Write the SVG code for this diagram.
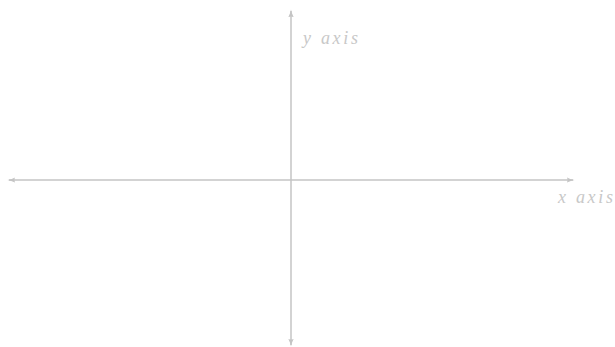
<svg xmlns="http://www.w3.org/2000/svg" width="615" height="347" viewBox="0 0 615 347">
<style>
.ax{stroke:#c4c4c4;stroke-width:1.5;fill:none}
.lbl{font-family:"Liberation Serif","DejaVu Serif",serif;font-style:italic;font-size:18px;fill:#c8c8c8}
</style>
<defs>
<marker id="arr" viewBox="0 0 10 10" refX="8" refY="5" markerWidth="8" markerHeight="8" orient="auto-start-reverse" markerUnits="userSpaceOnUse">
<path d="M0,1.5 Q5,4.2 10,5 Q5,5.8 0,8.5 Q2.5,5 0,1.5 Z" fill="#c4c4c4"/>
</marker>
</defs>
<rect width="615" height="347" fill="#ffffff"/>
<g id="connectors">
<line class="ax" x1="9" y1="180" x2="573" y2="180" marker-start="url(#arr)" marker-end="url(#arr)"/>
<line class="ax" x1="291" y1="11" x2="291" y2="345" marker-start="url(#arr)" marker-end="url(#arr)"/>
</g>
<g id="x-label"><text class="lbl" x="558" y="203" textLength="55" lengthAdjust="spacing">x axis</text></g>
<g id="y-label"><text class="lbl" x="303" y="44" textLength="55" lengthAdjust="spacing">y axis</text></g>
</svg>
